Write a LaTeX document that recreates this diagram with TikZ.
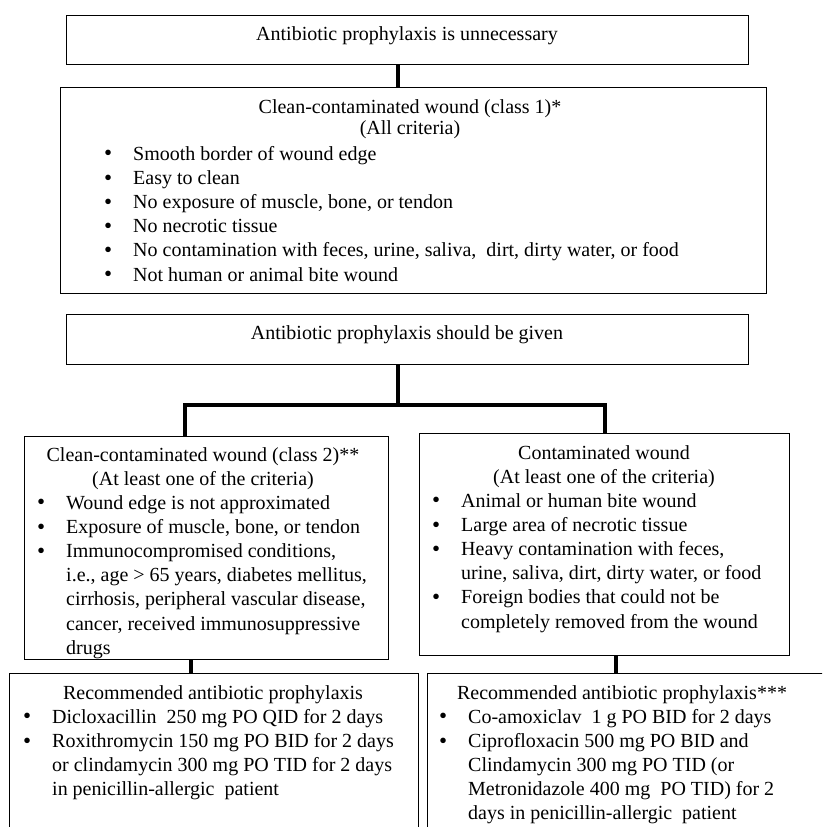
\documentclass[tikz,border=0pt]{standalone}
\usepackage{fontspec}
\setmainfont{Liberation Serif}
\usetikzlibrary{positioning}

\newcommand{\bulrows}[1]{\begin{tabular}[t]{@{}p{29pt}@{}l@{}}#1\end{tabular}}
\newcommand{\headrows}[1]{\begin{tabular}[t]{@{}c@{}}#1\end{tabular}}
\newcommand{\bul}{{\fontsize{23}{24.2}\selectfont\raisebox{-0.8pt}{\textbullet}}}

\begin{document}
\begin{tikzpicture}[x=1pt, y=-1pt,
                    box/.style={draw, line width=1.2pt, anchor=north west, inner sep=0pt},
                    txt/.style={inner sep=0pt, anchor=base, font=\fontsize{20}{24.2}\selectfont},
                    lst/.style={inner sep=0pt, anchor=base west, font=\fontsize{20}{24.2}\selectfont},
                    conn/.style={line width=3.5pt}]

\useasboundingbox (0,0) rectangle (822,827);
\clip (0,0) rectangle (822,827);

% boxes
\node[box, minimum width=682pt, minimum height=49pt] (unnec) at (66,15) {};
\node[box, minimum width=706pt, minimum height=206pt] (class1) at (60,87) {};
\node[box, minimum width=682pt, minimum height=50pt] (given) at (66,314) {};
\node[box, minimum width=364pt, minimum height=223pt] (class2) at (24,436) {};
\node[box, minimum width=370pt, minimum height=222pt] (contam) at (419,433) {};
\node[box, minimum width=409pt, minimum height=200pt] (recL) at (9,673) {};
\node[box, minimum width=440pt, minimum height=200pt] (recR) at (427,673) {};

% texts
\node[txt] (unnecT) at (407,40) {Antibiotic prophylaxis is unnecessary};
\node[txt] (class1H) at (410,113) {\headrows{Clean-contaminated wound (class 1)*\\[-3pt] (All criteria)}};
\node[lst] (class1L) at (104,160) {\bulrows{
  \bul & Smooth border of wound edge\\
  \bul & Easy to clean\\
  \bul & No exposure of muscle, bone, or tendon\\
  \bul & No necrotic tissue\\
  \bul & No contamination with feces, urine, saliva, \ dirt, dirty water, or food\\
  \bul & Not human or animal bite wound}};

\node[txt] (givenT) at (407,339) {Antibiotic prophylaxis should be given};

\node[txt] (class2H) at (203,461) {\headrows{Clean-contaminated wound (class 2)**\\ (At least one of the criteria)}};
\node[lst] (class2L) at (37,509) {\bulrows{
  \bul & Wound edge is not approximated\\
  \bul & Exposure of muscle, bone, or tendon\\
  \bul & Immunocompromised conditions,\\
       & i.e., age > 65 years, diabetes mellitus,\\
       & cirrhosis, peripheral vascular disease,\\
       & cancer, received immunosuppressive\\
       & drugs}};

\node[txt] (contamH) at (604,459) {\headrows{Contaminated wound\\ (At least one of the criteria)}};
\node[lst] (contamL) at (432,507) {\bulrows{
  \bul & Animal or human bite wound\\
  \bul & Large area of necrotic tissue\\
  \bul & Heavy contamination with feces,\\
       & urine, saliva, dirt, dirty water, or food\\
  \bul & Foreign bodies that could not be\\
       & completely removed from the wound}};

\node[txt] (recLH) at (213,699) {Recommended antibiotic prophylaxis};
\node[lst] (recLL) at (23,723) {\bulrows{
  \bul & Dicloxacillin \ 250 mg PO QID for 2 days\\
  \bul & Roxithromycin 150 mg PO BID for 2 days\\
       & or clindamycin 300 mg PO TID for 2 days\\
       & in penicillin-allergic \ patient}};

\node[txt] (recRH) at (622,699) {Recommended antibiotic prophylaxis***};
\node[lst] (recRL) at (439,723) {\bulrows{
  \bul & Co-amoxiclav \ 1 g PO BID for 2 days\\
  \bul & Ciprofloxacin 500 mg PO BID and\\
       & Clindamycin 300 mg PO TID (or\\
       & Metronidazole 400 mg \ PO TID) for 2\\
       & days in penicillin-allergic \ patient}};

% connectors
\coordinate (split) at (398,405);
\coordinate (dropL) at (185,405);
\coordinate (dropR) at (605,405);
\coordinate (linkL) at (191,666);
\coordinate (linkR) at (616,666);

\draw[conn] (unnec.south -| split) -- (class1.north -| split);
\draw[conn] (given.south -| split) -- (split);
\draw[conn] (dropL |- class2.north) -- (dropL) -- (dropR) -- (dropR |- contam.north);
\draw[conn] (class2.south -| linkL) -- (recL.north -| linkL);
\draw[conn] (contam.south -| linkR) -- (recR.north -| linkR);
\end{tikzpicture}
\end{document}
